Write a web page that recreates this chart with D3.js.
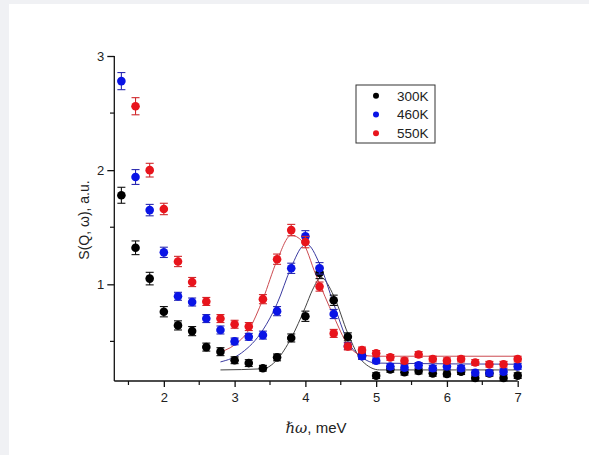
<!DOCTYPE HTML>
<html>
<head>
<meta charset="utf-8">
<script src="https://d3js.org/d3.v7.min.js"></script>
<style>
body { margin:0; background:#f0f1f4; }
text { font-family: Arial, "Liberation Sans", sans-serif; }
</style>
</head>
<body>
<svg id="svgMain" width="589" height="455"></svg>

<script>
// energy transfer, meV
var energy = [1.4,1.6,1.8,2.0,2.2,2.4,2.6,2.8,3.0,3.2,3.4,3.6,3.8,4.0,4.2,4.4,4.6,4.8,5.0,5.2,5.4,5.6,5.8,6.0,6.2,6.4,6.6,6.8,7.0];

var s300 = [1.78,1.32,1.05,0.76,0.64,0.59,0.45,0.41,0.335,0.31,0.265,0.36,0.53,0.72,1.10,0.86,0.54,0.375,0.20,0.255,0.23,0.24,0.22,0.215,0.235,0.18,0.22,0.18,0.20];
var e300 = [0.07,0.06,0.055,0.045,0.04,0.04,0.035,0.035,0.03,0.03,0.025,0.03,0.035,0.045,0.05,0.045,0.035,0.03,0.025,0.025,0.025,0.025,0.025,0.025,0.025,0.025,0.025,0.025,0.025];

var s460 = [2.78,1.94,1.65,1.28,0.895,0.845,0.70,0.60,0.50,0.54,0.555,0.765,1.14,1.42,1.14,0.74,0.46,0.37,0.33,0.28,0.27,0.29,0.265,0.28,0.265,0.225,0.225,0.235,0.28];
var e460 = [0.075,0.065,0.05,0.045,0.035,0.035,0.035,0.035,0.03,0.03,0.035,0.04,0.045,0.05,0.05,0.04,0.03,0.025,0.025,0.025,0.025,0.025,0.025,0.025,0.025,0.025,0.025,0.025,0.025];

// 550K series has no point at 1.4
var s550 = [null,2.56,2.0,1.66,1.20,1.02,0.85,0.70,0.65,0.63,0.87,1.22,1.475,1.37,0.98,0.57,0.455,0.425,0.395,0.36,0.33,0.385,0.345,0.33,0.345,0.315,0.30,0.30,0.345];
var e550 = [0,0.075,0.06,0.05,0.045,0.04,0.035,0.035,0.035,0.035,0.04,0.045,0.05,0.05,0.04,0.035,0.03,0.025,0.025,0.025,0.025,0.025,0.025,0.025,0.025,0.025,0.025,0.025,0.025];

// fitted curves
var fit300 = [[2.8,0.25],[3.4,0.26],[3.6,0.34],[3.8,0.53],[4.0,0.80],[4.1,0.95],[4.22,1.06],[4.4,0.90],[4.6,0.57],[4.8,0.33],[5.05,0.25],[7.0,0.25]];
var fit460 = [[2.8,0.32],[3.1,0.40],[3.4,0.60],[3.6,0.83],[3.8,1.15],[3.97,1.34],[4.02,1.35],[4.2,1.18],[4.4,0.83],[4.6,0.50],[4.8,0.36],[5.0,0.31],[7.0,0.30]];
var fit550 = [[2.75,0.40],[3.0,0.47],[3.2,0.60],[3.4,0.87],[3.6,1.21],[3.8,1.43],[3.95,1.38],[4.15,1.08],[4.4,0.72],[4.6,0.47],[4.8,0.38],[5.0,0.37],[7.0,0.37]];

var seriesNames = ["300K","460K","550K"];
var xTicks = [2,3,4,5,6,7];
var yTicks = [1,2,3];

var svg = d3.select("#svgMain");
svg.append("rect").attr("x",9).attr("y",4).attr("width",580).attr("height",451).attr("fill","white");

var xs = d3.scaleLinear().domain([1.3,7]).range([114.3,517.7]);
var ys = d3.scaleLinear().domain([0.153,3]).range([381,56]);

var series = [
  {name: seriesNames[0], vals: s300, err: e300, fit: fit300, color: "#000000", bar: "#111111", line: "#444444"},
  {name: seriesNames[1], vals: s460, err: e460, fit: fit460, color: "#0a14e6", bar: "#2a2ab0", line: "#3a3aa0"},
  {name: seriesNames[2], vals: s550, err: e550, fit: fit550, color: "#e8141c", bar: "#d0282c", line: "#cc4a50"}
];

// axes
var xAxis = d3.axisBottom(xs).tickValues(xTicks).tickSize(6).tickFormat(d3.format("d"));
var yAxis = d3.axisLeft(ys).tickValues(yTicks).tickSize(7).tickFormat(d3.format("d"));

var gx = svg.append("g").attr("transform","translate(0,381)").call(xAxis);
var gy = svg.append("g").attr("transform","translate(114.3,0)").call(yAxis);
[gx,gy].forEach(function(g){
  g.select(".domain").attr("stroke","#111").attr("stroke-width",1.3);
  g.selectAll(".tick line").attr("stroke","#111").attr("stroke-width",1.3);
  g.selectAll(".tick text").attr("fill","#222").style("font-size","13px");
});
gx.selectAll(".tick text").attr("dy","0.95em");
gy.select(".domain").attr("d","M0,381V56");
gx.select(".domain").attr("d","M114.3,0H517.7");

// minor ticks
svg.append("g").selectAll("line").data([1.5,2.5,3.5,4.5,5.5,6.5]).enter().append("line")
  .attr("x1",function(d){return xs(d);}).attr("x2",function(d){return xs(d);})
  .attr("y1",381).attr("y2",385).attr("stroke","#111").attr("stroke-width",1.2);
svg.append("g").selectAll("line").data([0.5,1.5,2.5]).enter().append("line")
  .attr("y1",function(d){return ys(d);}).attr("y2",function(d){return ys(d);})
  .attr("x1",114.3).attr("x2",110).attr("stroke","#111").attr("stroke-width",1.2);

// fit curves
var line = d3.line().x(function(d){return xs(d[0]);}).y(function(d){return ys(d[1]);}).curve(d3.curveMonotoneX);
series.forEach(function(s){
  svg.append("path").attr("d",line(s.fit)).attr("fill","none").attr("stroke",s.line).attr("stroke-width",1);
});

// error bars and points
series.forEach(function(s){
  var pts = energy.map(function(x,i){ return {x:x, y:s.vals[i], e:s.err[i]}; }).filter(function(d){ return d.y !== null; });
  var g = svg.append("g");
  var eb = g.selectAll("g.eb").data(pts).enter().append("g").attr("stroke",s.bar).attr("stroke-width",1.1);
  eb.append("line").attr("x1",function(d){return xs(d.x);}).attr("x2",function(d){return xs(d.x);})
    .attr("y1",function(d){return ys(d.y+d.e);}).attr("y2",function(d){return ys(d.y-d.e);});
  eb.append("line").attr("x1",function(d){return xs(d.x)-4;}).attr("x2",function(d){return xs(d.x)+4;})
    .attr("y1",function(d){return ys(d.y+d.e);}).attr("y2",function(d){return ys(d.y+d.e);});
  eb.append("line").attr("x1",function(d){return xs(d.x)-4;}).attr("x2",function(d){return xs(d.x)+4;})
    .attr("y1",function(d){return ys(d.y-d.e);}).attr("y2",function(d){return ys(d.y-d.e);});
  g.selectAll("circle").data(pts).enter().append("circle")
    .attr("cx",function(d){return xs(d.x);}).attr("cy",function(d){return ys(d.y);})
    .attr("r",4.3).attr("fill",s.color);
});

// axis titles
svg.append("text").attr("transform","translate(89,220) rotate(-90)").attr("text-anchor","middle")
  .style("font-size","14px").attr("fill","#222").text("S(Q, \u03c9), a.u.");
var xt = svg.append("text").attr("x",316).attr("y",433).attr("text-anchor","middle")
  .style("font-size","15px").attr("fill","#222");
xt.append("tspan").style("font-family","'DejaVu Serif', 'Liberation Serif', serif").style("font-style","italic").text("\u210f\u03c9");
xt.append("tspan").text(", meV");

// legend
var lg = svg.append("g");
lg.append("rect").attr("x",356).attr("y",85).attr("width",79).attr("height",58)
  .attr("fill","white").attr("stroke","#333").attr("stroke-width",1);
series.forEach(function(s,i){
  lg.append("circle").attr("cx",376).attr("cy",95.7+i*18.8).attr("r",3).attr("fill",s.color);
  lg.append("text").attr("x",397).attr("y",100.5+i*18.8).style("font-size","13.5px").attr("fill","#222").text(s.name);
});
</script>
</body>
</html>
